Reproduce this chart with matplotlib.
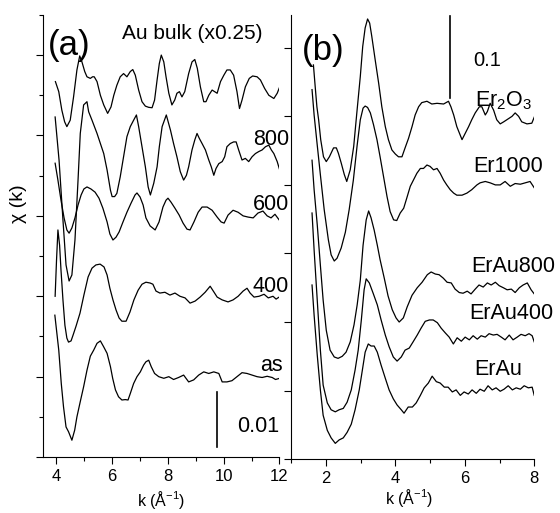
import numpy as np
import matplotlib
matplotlib.use("Agg")
import matplotlib.pyplot as plt
from matplotlib.ticker import MultipleLocator

plt.rcParams['font.family'] = ['Liberation Sans', 'DejaVu Sans']
plt.rcParams['mathtext.fontset'] = 'custom'
plt.rcParams['mathtext.rm'] = 'Liberation Sans'
plt.rcParams['mathtext.it'] = 'Liberation Sans'

# ---- panel (a): Au samples, chi(k) with vertical offsets (axis units)
k_aubulk = [3.98, 4.10, 4.21, 4.31, 4.39, 4.51, 4.63, 4.75, 4.85, 4.93, 5.03, 5.11,
            5.23, 5.31, 5.37, 5.47, 5.59, 5.71, 5.85, 5.97, 6.07, 6.18, 6.30, 6.42,
            6.54, 6.66, 6.75, 6.84, 6.96, 7.08, 7.20, 7.32, 7.44, 7.53, 7.62, 7.70,
            7.77, 7.86, 7.94, 8.04, 8.15, 8.25, 8.33, 8.42, 8.51, 8.61, 8.75, 8.87,
            8.97, 9.06, 9.17, 9.29, 9.37, 9.47, 9.59, 9.68, 9.77, 9.89, 10.01, 10.12,
            10.24, 10.36, 10.48, 10.57, 10.66, 10.78, 10.92, 11.04, 11.20, 11.32,
            11.47, 11.62, 11.80, 11.92, 12.01]
chi_aubulk = [9.34, 9.09, 8.63, 8.34, 8.22, 8.38, 8.96, 9.63, 9.98, 9.83, 9.59, 9.46,
              9.42, 9.46, 9.46, 9.34, 9.00, 8.76, 8.55, 8.71, 9.00, 9.25, 9.46, 9.54,
              9.46, 9.59, 9.64, 9.50, 9.13, 8.84, 8.73, 8.70, 8.69, 8.88, 9.38, 9.79,
              10.0, 9.83, 9.46, 9.05, 8.76, 8.88, 9.05, 9.09, 8.96, 9.09, 9.54, 9.83,
              9.89, 9.67, 9.21, 8.84, 8.84, 9.00, 9.13, 9.09, 9.05, 9.34, 9.50, 9.63,
              9.63, 9.50, 9.09, 8.67, 8.88, 9.21, 9.42, 9.48, 9.46, 9.38,
              9.17, 9.00, 8.92, 9.05, 9.21]

k_800 = [3.97, 4.11, 4.25, 4.36, 4.47, 4.57, 4.68, 4.79, 4.87, 4.99, 5.11, 5.17, 5.29,
         5.47, 5.59, 5.71, 5.83, 5.95, 6.01, 6.10, 6.18, 6.30, 6.42, 6.54, 6.66, 6.78,
         6.88, 6.96, 7.08, 7.20, 7.30, 7.38, 7.50, 7.62, 7.70, 7.80, 7.95, 8.10, 8.21,
         8.33, 8.45, 8.57, 8.67, 8.75, 8.87, 8.97, 9.05, 9.13, 9.23, 9.35, 9.47, 9.56,
         9.65, 9.73, 9.83, 9.95, 10.04, 10.12, 10.24, 10.36, 10.45, 10.54, 10.66,
         10.78, 10.90, 11.02, 11.14, 11.26, 11.38, 11.50, 11.62, 11.71, 11.80, 11.92,
         12.01]
chi_800 = [8.46, 7.39, 5.90, 4.78, 4.38, 4.53, 5.40, 6.89, 8.05, 8.76, 8.84, 8.59, 8.38,
           8.05, 7.80, 7.55, 7.14, 6.64, 6.48, 6.48, 6.56, 6.97, 7.47, 7.97, 8.22, 8.38,
           8.51, 8.22, 7.72, 7.22, 6.72, 6.52, 6.81, 7.22, 7.72, 8.22, 8.51, 8.13, 7.80,
           7.47, 7.10, 6.89, 7.01, 7.22, 7.64, 7.89, 8.05, 7.93, 7.80, 7.64, 7.39, 7.22,
           7.01, 7.18, 7.30, 7.35, 7.47, 7.72, 7.80, 7.84, 7.84, 7.64, 7.39,
           7.43, 7.35, 7.47, 7.55, 7.60, 7.64, 7.72, 7.76, 7.64, 7.55, 7.35,
           7.14]

k_600 = [3.97, 4.07, 4.18, 4.29, 4.39, 4.47, 4.57, 4.68, 4.79, 4.90, 5.00, 5.11, 5.25,
         5.40, 5.54, 5.68, 5.83, 5.93, 6.04, 6.15, 6.26, 6.40, 6.54, 6.69, 6.83, 6.90,
         7.01, 7.12, 7.22, 7.37, 7.55, 7.69, 7.83, 7.94, 8.01, 8.12, 8.26, 8.41, 8.55,
         8.69, 8.80, 8.94, 9.09, 9.23, 9.41, 9.59, 9.77, 9.91, 10.02, 10.16, 10.34,
         10.52, 10.70, 10.88, 11.06, 11.23, 11.41, 11.56, 11.70, 11.84, 11.99]
chi_600 = [7.31, 6.89, 6.39, 5.95, 5.65, 5.57, 5.70, 5.95, 6.27, 6.52, 6.67, 6.72, 6.67,
           6.59, 6.44, 6.19, 5.85, 5.55, 5.40, 5.47, 5.60, 5.85, 6.09, 6.32, 6.52, 6.57,
           6.47, 6.27, 5.95, 5.75, 5.65, 5.85, 6.22, 6.39, 6.44, 6.34, 6.19, 6.02, 5.82,
           5.67, 5.65, 5.85, 6.09, 6.22, 6.22, 6.14, 5.97, 5.85, 5.82, 6.02, 6.14,
           6.09, 6.00, 5.97, 5.95, 6.07, 6.12, 6.00, 5.95, 6.04, 5.90]

k_400 = [3.97, 4.02, 4.07, 4.13, 4.18, 4.25, 4.32, 4.39, 4.45, 4.54, 4.61, 4.72, 4.86,
         5.00, 5.15, 5.29, 5.43, 5.58, 5.72, 5.83, 5.93, 6.04, 6.15, 6.26, 6.36, 6.51,
         6.65, 6.79, 6.94, 7.08, 7.22, 7.37, 7.47, 7.58, 7.72, 7.90, 8.08, 8.26, 8.44,
         8.62, 8.80, 8.98, 9.16, 9.34, 9.52, 9.66, 9.77, 9.95, 10.16, 10.34, 10.52,
         10.70, 10.84, 10.95, 11.09, 11.27, 11.45, 11.60, 11.77, 11.88, 11.99]
chi_400 = [4.00, 4.90, 5.65, 5.27, 4.65, 3.91, 3.28, 2.96, 2.86, 2.89, 3.03, 3.26, 3.58,
           4.03, 4.48, 4.70, 4.78, 4.80, 4.73, 4.53, 4.20, 3.91, 3.66, 3.46, 3.38, 3.38,
           3.61, 3.91, 4.15, 4.30, 4.35, 4.33, 4.30, 4.13, 4.08, 4.10, 4.03, 4.08, 4.00,
           3.96, 3.83, 3.88, 3.98, 4.10, 4.25, 4.10, 3.98, 3.91, 3.86, 3.91, 4.00,
           4.13, 4.20, 4.08, 3.98, 4.00, 4.05, 3.96, 4.00, 3.93, 3.98]

k_as = [3.96, 4.10, 4.19, 4.27, 4.36, 4.45, 4.57, 4.67, 4.75, 4.87, 4.99, 5.11, 5.23,
        5.35, 5.47, 5.59, 5.71, 5.83, 5.95, 6.03, 6.13, 6.24, 6.36, 6.48, 6.58, 6.66,
        6.78, 6.90, 7.02, 7.14, 7.22, 7.32, 7.41, 7.53, 7.68, 7.86, 8.04, 8.21, 8.39,
        8.57, 8.75, 8.93, 9.11, 9.29, 9.47, 9.65, 9.83, 9.95, 10.12, 10.30, 10.48,
        10.66, 10.84, 11.02, 11.20, 11.38, 11.56, 11.74, 11.86, 12.01]
chi_as = [3.53, 2.66, 1.83, 1.25, 0.75, 0.63, 0.42, 0.67, 1.00, 1.38, 1.75, 2.16, 2.51,
          2.66, 2.83, 2.89, 2.74, 2.58, 2.25, 1.96, 1.67, 1.50, 1.42, 1.43, 1.42, 1.58,
          1.83, 2.00, 2.12, 2.29, 2.37, 2.41, 2.25, 2.08, 2.00, 1.96, 2.00, 1.93, 1.98,
          2.04, 1.87, 1.92, 2.04, 2.12, 2.08, 2.12, 2.08, 1.87, 1.87, 1.90, 2.00,
          2.10, 2.08, 2.04, 2.00, 1.98, 2.01, 1.98, 1.93, 1.96]

# ---- panel (b): Er samples
k_er2o3 = [1.64, 1.69, 1.74, 1.79, 1.85, 1.93, 2.01, 2.10, 2.22, 2.30, 2.36, 2.44, 2.53,
           2.60, 2.70, 2.80, 2.89, 2.99, 3.06, 3.13, 3.20, 3.26, 3.32, 3.42, 3.52, 3.61,
           3.71, 3.80, 3.90, 4.00, 4.09, 4.19, 4.28, 4.38, 4.48, 4.57, 4.67, 4.76, 4.91,
           5.05, 5.20, 5.39, 5.53, 5.60, 5.68, 5.77, 5.92, 6.01, 6.11, 6.20, 6.30, 6.42,
           6.49, 6.59, 6.65, 6.73, 6.83, 6.92, 7.02, 7.12, 7.21, 7.36, 7.45, 7.55, 7.64,
           7.79, 7.93, 8.01]
chi_er2o3 = [5.75, 5.44, 5.14, 4.95, 4.66, 4.41, 4.34, 4.41, 4.54, 4.54, 4.46, 4.32, 4.15,
             4.05, 4.22, 4.56, 5.05, 5.58, 6.02, 6.29, 6.42, 6.36, 6.17, 5.82, 5.48, 5.14,
             4.85, 4.66, 4.51, 4.45, 4.41, 4.41, 4.54, 4.68, 4.85, 5.02, 5.14, 5.20, 5.22,
             5.18, 5.19, 5.18, 5.22, 5.14, 5.02, 4.85, 4.66, 4.75, 4.85, 4.95, 5.05, 5.14,
             5.14, 5.02, 5.07, 5.19, 5.09, 4.95, 4.89, 4.92, 4.95, 5.00, 5.05, 5.00, 4.92,
             4.89, 4.90, 5.00]

k_er1000 = [1.60, 1.66, 1.75, 1.84, 1.95, 2.07, 2.15, 2.24, 2.32, 2.44, 2.56, 2.67, 2.79,
            2.90, 2.99, 3.07, 3.13, 3.20, 3.28, 3.37, 3.47, 3.56, 3.66, 3.76, 3.85, 3.95,
            4.04, 4.14, 4.24, 4.33, 4.43, 4.52, 4.62, 4.72, 4.81, 4.91, 5.00, 5.10, 5.20,
            5.29, 5.39, 5.48, 5.58, 5.68, 5.77, 5.92, 6.06, 6.20, 6.35, 6.44, 6.59, 6.73,
            6.88, 7.02, 7.16, 7.31, 7.45, 7.60, 7.74, 7.88, 8.01]
chi_er1000 = [5.39, 5.02, 4.58, 4.15, 3.64, 3.20, 2.98, 2.89, 2.93, 3.08, 3.31, 3.64, 4.07,
              4.58, 4.95, 5.12, 5.15, 5.13, 5.05, 4.88, 4.66, 4.41, 4.12, 3.83, 3.61, 3.49,
              3.48, 3.59, 3.66, 3.81, 3.98, 4.07, 4.17, 4.24, 4.24, 4.29, 4.27, 4.22, 4.24,
              4.17, 4.07, 4.00, 3.93, 3.88, 3.85, 3.85, 3.88, 3.93, 4.00, 4.03, 4.05, 4.03,
              4.00, 4.00, 4.05, 3.98, 4.02, 4.01, 4.03, 4.05, 3.95]

k_erau800 = [1.60, 1.66, 1.75, 1.84, 1.92, 2.01, 2.12, 2.24, 2.35, 2.47, 2.58, 2.70, 2.81,
             2.90, 2.99, 3.07, 3.16, 3.23, 3.30, 3.39, 3.48, 3.56, 3.68, 3.79, 3.91, 4.02,
             4.11, 4.23, 4.34, 4.48, 4.63, 4.77, 4.92, 5.03, 5.15, 5.26, 5.38, 5.49, 5.61,
             5.72, 5.84, 5.95, 6.07, 6.18, 6.30, 6.41, 6.53, 6.65, 6.76, 6.88, 6.99, 7.11,
             7.22, 7.34, 7.45, 7.57, 7.68, 7.80, 7.91, 8.00]
chi_erau800 = [4.36, 3.93, 3.42, 2.83, 2.32, 1.88, 1.59, 1.49, 1.47, 1.50, 1.56, 1.71, 1.96,
               2.25, 2.61, 3.12, 3.49, 3.62, 3.52, 3.34, 3.12, 2.91, 2.64, 2.38, 2.18, 2.06,
               2.00, 2.06, 2.22, 2.39, 2.50, 2.58, 2.69, 2.73, 2.70, 2.69, 2.64, 2.58, 2.57,
               2.48, 2.43, 2.42, 2.45, 2.41, 2.48, 2.54, 2.51, 2.57, 2.54, 2.58, 2.53, 2.50,
               2.47, 2.48, 2.43, 2.50, 2.54, 2.57, 2.47, 2.41]

k_erau400 = [1.60, 1.66, 1.75, 1.84, 1.92, 2.04, 2.15, 2.27, 2.38, 2.50, 2.61, 2.73, 2.84,
             2.93, 3.02, 3.10, 3.16, 3.25, 3.36, 3.48, 3.59, 3.71, 3.82, 3.94, 4.05, 4.17,
             4.28, 4.40, 4.51, 4.63, 4.74, 4.86, 4.98, 5.09, 5.21, 5.32, 5.44, 5.55, 5.67,
             5.78, 5.90, 6.01, 6.13, 6.24, 6.36, 6.47, 6.59, 6.70, 6.82, 6.93, 7.05, 7.16,
             7.28, 7.39, 7.51, 7.62, 7.74, 7.85, 7.94, 8.00]
chi_erau400 = [3.59, 3.05, 2.32, 1.59, 1.08, 0.82, 0.72, 0.69, 0.72, 0.74, 0.83, 1.01, 1.30,
               1.59, 2.03, 2.47, 2.63, 2.57, 2.42, 2.25, 2.03, 1.81, 1.64, 1.49, 1.43, 1.49,
               1.59, 1.62, 1.71, 1.81, 1.91, 2.01, 2.03, 2.03, 1.99, 1.91, 1.84, 1.78, 1.68,
               1.77, 1.72, 1.78, 1.74, 1.80, 1.75, 1.80, 1.78, 1.83, 1.81, 1.82, 1.78, 1.74,
               1.81, 1.74, 1.78, 1.82, 1.80, 1.83, 1.80, 1.71]

k_erau = [1.60, 1.66, 1.75, 1.84, 1.92, 2.04, 2.15, 2.27, 2.38, 2.50, 2.61, 2.73, 2.84,
          2.96, 3.05, 3.13, 3.22, 3.30, 3.39, 3.48, 3.59, 3.71, 3.82, 3.94, 4.05, 4.17,
          4.25, 4.37, 4.49, 4.60, 4.72, 4.83, 4.95, 5.06, 5.18, 5.29, 5.41, 5.52, 5.64,
          5.75, 5.87, 5.98, 6.10, 6.21, 6.33, 6.44, 6.56, 6.67, 6.79, 6.90, 7.02, 7.13,
          7.25, 7.37, 7.48, 7.60, 7.71, 7.83, 7.94, 8.00]
chi_erau = [2.54, 2.10, 1.52, 1.01, 0.64, 0.42, 0.31, 0.23, 0.28, 0.31, 0.39, 0.51, 0.72,
            1.01, 1.30, 1.56, 1.68, 1.65, 1.65, 1.56, 1.37, 1.18, 1.01, 0.88, 0.79, 0.72,
            0.67, 0.76, 0.76, 0.82, 0.93, 1.04, 1.11, 1.21, 1.13, 1.11, 1.05, 1.05, 0.98,
            1.01, 0.93, 0.98, 0.95, 1.01, 0.96, 1.02, 0.99, 1.07, 1.01, 1.04, 0.99, 1.02,
            1.07, 1.01, 1.04, 1.02, 1.07, 1.04, 1.05, 0.93]

labels_a = ["800", "600", "400", "as"]
labels_b = ["Er$_2$O$_3$", "Er1000", "ErAu800", "ErAu400", "ErAu"]


def style_axis(ax):
    ax.spines['top'].set_visible(False)
    ax.spines['right'].set_visible(False)
    ax.tick_params(which='both', direction='out', width=0.8, labelsize=12)
    ax.tick_params(which='major', length=5)
    ax.tick_params(which='minor', length=3)
    ax.tick_params(axis='y', labelleft=False)


fig = plt.figure(figsize=(5.6, 5.13), dpi=100)
ax1 = fig.add_axes([0.076, 0.109, 0.423, 0.862])
ax2 = fig.add_axes([0.520, 0.105, 0.434, 0.866])

lw = 0.9
for k, c in [(k_aubulk, chi_aubulk), (k_800, chi_800), (k_600, chi_600),
             (k_400, chi_400), (k_as, chi_as)]:
    ax1.plot(k, c, color='black', lw=lw)
ax1.set_xlim(3.52, 12)
ax1.set_ylim(0, 11)
ax1.xaxis.set_major_locator(MultipleLocator(2))
ax1.xaxis.set_minor_locator(MultipleLocator(1))
ax1.yaxis.set_major_locator(MultipleLocator(2))
ax1.yaxis.set_minor_locator(MultipleLocator(1))
style_axis(ax1)

ax1.text(3.71, 10.0, "(a)", fontsize=25)
ax1.text(6.36, 10.39, "Au bulk (x0.25)", fontsize=15)
for lab, y in zip(labels_a, [7.76, 6.14, 4.10, 2.14]):
    ax1.text(12.35 if lab != "as" else 12.13, y, lab, fontsize=15.5, ha='right')
ax1.plot([9.77, 9.77], [0.25, 1.62], color='black', lw=1.2)
ax1.text(10.49, 0.63, "0.01", fontsize=15.5)

for k, c in [(k_er2o3, chi_er2o3), (k_er1000, chi_er1000), (k_erau800, chi_erau800),
             (k_erau400, chi_erau400), (k_erau, chi_erau)]:
    ax2.plot(k, c, color='black', lw=lw)
ax2.set_xlim(1, 8)
ax2.set_ylim(0, 6.48)
ax2.xaxis.set_major_locator(MultipleLocator(2))
ax2.xaxis.set_minor_locator(MultipleLocator(1))
ax2.yaxis.set_major_locator(MultipleLocator(1))
style_axis(ax2)

ax2.text(1.31, 5.82, "(b)", fontsize=25)
ax2.plot([5.58, 5.58], [5.27, 6.46], color='black', lw=1.2)
ax2.text(6.23, 5.73, "0.1", fontsize=14.5)
for lab, x, y in zip(labels_b, [6.30, 6.23, 6.18, 6.14, 6.28],
                     [5.15, 4.19, 2.73, 2.05, 1.23]):
    ax2.text(x, y, lab, fontsize=15.5)

fig.text(18.7 / 560, 1 - 204 / 513, "χ (k)", rotation=90, fontsize=14,
         ha='center', va='center')
fig.text(161 / 560, 1 - 500 / 513, "k (Å$^{-1}$)", fontsize=11.5, ha='center', va='center')
fig.text(409 / 560, 1 - 498 / 513, "k (Å$^{-1}$)", fontsize=11.5, ha='center', va='center')

fig.savefig("out.png", dpi=100)
